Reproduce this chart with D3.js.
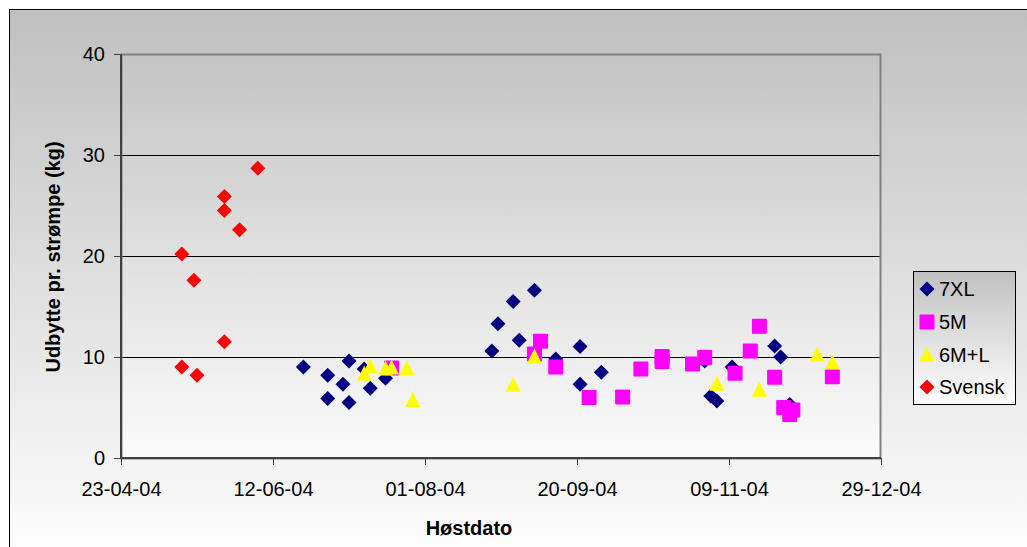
<!DOCTYPE html>
<html>
<head>
<meta charset="utf-8">
<script src="https://cdn.jsdelivr.net/npm/d3@7"></script>
<style>
  html, body { margin: 0; padding: 0; background: #ffffff; }
  svg { display: block; font-family: "Liberation Sans", Arial, sans-serif; }
</style>
</head>
<body>
<svg id="chart" width="1027" height="547"></svg>
<script>
// Harvest yield per sock (kg) by harvest date, four mussel-line types
const xTickLabels = ["23-04-04", "12-06-04", "01-08-04", "20-09-04", "09-11-04", "29-12-04"];
const yTickValues = [0, 10, 20, 30, 40];
const seriesNames = ["7XL", "5M", "6M+L", "Svensk"];

const dates7XL = ["2004-06-22","2004-06-30","2004-06-30","2004-07-05","2004-07-07","2004-07-07","2004-07-12","2004-07-14","2004-07-19",
  "2004-08-23","2004-08-25","2004-08-30","2004-09-01","2004-09-06","2004-09-13","2004-09-21","2004-09-21","2004-09-28",
  "2004-11-01","2004-11-03","2004-11-05","2004-11-10","2004-11-24","2004-11-26","2004-11-29"];
const values7XL = [9.0, 8.2, 5.9, 7.3, 9.6, 5.5, 8.8, 6.9, 7.9,
  10.6, 13.3, 15.5, 11.65, 16.6, 9.8, 11.05, 7.3, 8.5,
  9.6, 6.15, 5.65, 9.0, 11.1, 10.0, 5.3];

const dates5M = ["2004-07-21","2004-09-06","2004-09-08","2004-09-13","2004-09-24","2004-10-05","2004-10-11","2004-10-18","2004-10-18",
  "2004-10-28","2004-11-01","2004-11-11","2004-11-16","2004-11-19","2004-11-24","2004-11-27","2004-11-30","2004-11-29","2004-12-13"];
const values5M = [8.9, 10.3, 11.55, 9.0, 6.0, 6.05, 8.8, 10.05, 9.55,
  9.3, 9.95, 8.4, 10.6, 13.05, 8.0, 5.0, 4.75, 4.3, 8.05];

const dates6ML = ["2004-07-12","2004-07-14","2004-07-19","2004-07-21","2004-07-26","2004-07-28","2004-08-30","2004-09-06",
  "2004-11-05","2004-11-19","2004-12-08","2004-12-13"];
const values6ML = [8.3, 9.0, 8.8, 8.9, 8.8, 5.7, 7.2, 10.0, 7.3, 6.7, 10.2, 9.4];

const datesSvensk = ["2004-05-13","2004-05-13","2004-05-17","2004-05-18","2004-05-27","2004-05-27","2004-05-27","2004-06-01","2004-06-07"];
const valuesSvensk = [20.2, 9.0, 17.6, 8.2, 25.9, 24.5, 11.5, 22.6, 28.7];

const parse = d3.timeParse("%Y-%m-%d");
const fmt = d3.timeFormat("%d-%m-%y");

const series = [
  { name: seriesNames[0], dates: dates7XL, values: values7XL, color: "#000080", shape: "diamond" },
  { name: seriesNames[1], dates: dates5M, values: values5M, color: "#ff00ff", shape: "square" },
  { name: seriesNames[2], dates: dates6ML, values: values6ML, color: "#ffff00", shape: "triangle" },
  { name: seriesNames[3], dates: datesSvensk, values: valuesSvensk, color: "#ff0000", shape: "diamond" }
];

const svg = d3.select("#chart");
const W = 1027, H = 547;
const plot = { left: 121, top: 54, right: 881, bottom: 458 };
const FONT = "'Liberation Sans', Arial, sans-serif";

// gradients
const defs = svg.append("defs");
function vGrad(id, from, to) {
  const g = defs.append("linearGradient").attr("id", id)
    .attr("x1", 0).attr("y1", 0).attr("x2", 0).attr("y2", 1);
  g.append("stop").attr("offset", "0%").attr("stop-color", from);
  g.append("stop").attr("offset", "100%").attr("stop-color", to);
}
vGrad("bgGrad", "#c0c0c0", "#ffffff");
vGrad("plotGrad", "#c4c4c4", "#fbfbfb");
vGrad("legGrad", "#c0c0c0", "#ffffff");

// chart background and frame
svg.append("rect").attr("x", 9.5).attr("y", 9.5).attr("width", W + 10).attr("height", H + 10)
  .attr("fill", "url(#bgGrad)").attr("stroke", "#000").attr("stroke-width", 1);

// plot area
svg.append("rect")
  .attr("x", plot.left).attr("y", plot.top)
  .attr("width", plot.right - plot.left).attr("height", plot.bottom - plot.top)
  .attr("fill", "url(#plotGrad)");

const x = d3.scaleTime()
  .domain([parse("2004-04-23"), parse("2004-12-29")])
  .range([plot.left, plot.right]);
const y = d3.scaleLinear().domain([0, 40]).range([plot.bottom, plot.top]);

const xTicks = xTickLabels.map(s => d3.timeParse("%d-%m-%y")(s));

// horizontal gridlines
svg.append("g").selectAll("line").data(yTickValues.filter(v => v > 0 && v < 40)).join("line")
  .attr("x1", plot.left).attr("x2", plot.right)
  .attr("y1", d => Math.round(y(d)) + 0.5).attr("y2", d => Math.round(y(d)) + 0.5)
  .attr("stroke", "#000").attr("stroke-width", 1);

// plot border
svg.append("rect")
  .attr("x", plot.left + 0.5).attr("y", plot.top + 0.5)
  .attr("width", plot.right - plot.left - 1).attr("height", plot.bottom - plot.top)
  .attr("fill", "none").attr("stroke", "#808080").attr("stroke-width", 2);

// axes
const yAxis = d3.axisLeft(y).tickValues(yTickValues).tickSize(7).tickPadding(9).tickFormat(d3.format("d"));
const gy = svg.append("g").attr("transform", `translate(${plot.left},0)`).call(yAxis);
const xAxis = d3.axisBottom(x).tickValues(xTicks).tickSize(7).tickPadding(17).tickFormat(fmt);
const gx = svg.append("g").attr("transform", `translate(0,${plot.bottom})`).call(xAxis);

[gx, gy].forEach(g => {
  g.select(".domain").attr("stroke", "#404040").attr("stroke-width", 2);
  g.selectAll(".tick line").attr("stroke", "#404040").attr("stroke-width", 1);
  g.selectAll("text").attr("fill", "#000").style("font-size", "20px").style("font-family", FONT);
});
gy.select(".domain").attr("d", `M0,${plot.bottom}V${plot.top}`);
gx.select(".domain").attr("d", `M${plot.left},0H${plot.right}`);

// axis titles
svg.append("text").attr("x", 469).attr("y", 535).attr("text-anchor", "middle")
  .style("font-size", "20px").style("font-weight", "bold").text("Høstdato");
svg.append("text").attr("transform", "translate(60,257) rotate(-90)").attr("text-anchor", "middle")
  .style("font-size", "20px").style("font-weight", "bold").text("Udbytte pr. strømpe (kg)");

// marker shapes
function markerPath(shape) {
  if (shape === "diamond") return "M0,-7.5L7.5,0L0,7.5L-7.5,0Z";
  if (shape === "square") return "M-6.5,-7.5H6.5Q7.5,-7.5 7.5,-6.5V6.5Q7.5,7.5 6.5,7.5H-6.5Q-7.5,7.5 -7.5,6.5V-6.5Q-7.5,-7.5 -6.5,-7.5Z";
  return "M0,-8.5L7.5,6.5H-7.5Z";
}

// points, drawn series by series
series.forEach(s => {
  const pts = s.dates.map((d, i) => ({ date: parse(d), value: s.values[i] }));
  svg.append("g").selectAll("path").data(pts).join("path")
    .attr("transform", d => `translate(${x(d.date)},${y(d.value)})`)
    .attr("d", markerPath(s.shape))
    .attr("fill", s.color);
});

// legend
const leg = svg.append("g");
leg.append("rect").attr("x", 913.5).attr("y", 271.5).attr("width", 102).attr("height", 133)
  .attr("fill", "url(#legGrad)").attr("stroke", "#000").attr("stroke-width", 1);
const legY = [289, 322, 355, 387];
series.forEach((s, i) => {
  leg.append("path").attr("transform", `translate(927,${legY[i]})`)
    .attr("d", markerPath(s.shape)).attr("fill", s.color);
  leg.append("text").attr("x", 939).attr("y", legY[i] + 7)
    .style("font-size", "20px").text(s.name);
});
</script>
</body>
</html>
